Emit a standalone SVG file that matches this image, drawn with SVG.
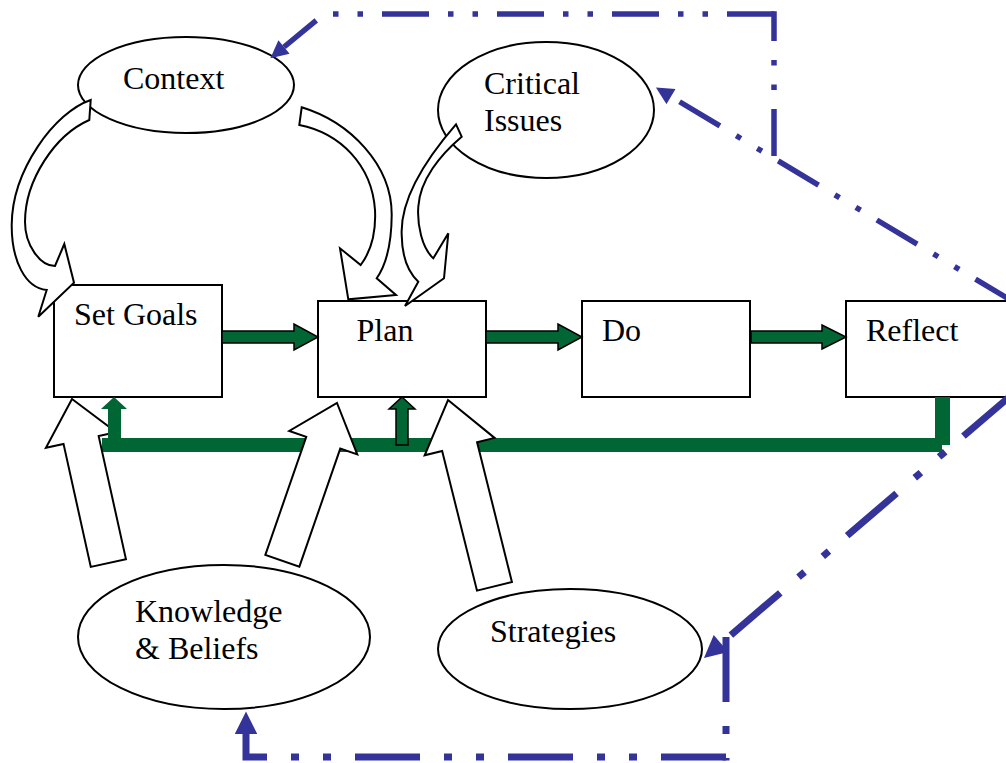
<svg xmlns="http://www.w3.org/2000/svg" width="1006" height="763" viewBox="0 0 1006 763">
<style>
.box{fill:#fff;stroke:#000;stroke-width:2}
.ell{fill:#fff;stroke:#000;stroke-width:2}
.lbl{font-family:"Liberation Serif","Times New Roman",serif;font-size:32px;fill:#000}
.garrow{fill:#006633;stroke:#000;stroke-width:1.5;stroke-linejoin:miter}
.gband{fill:#006633}
.block{fill:#fff;stroke:#000;stroke-width:2;stroke-linejoin:miter}
.fb{fill:none;stroke:#333399;stroke-linejoin:miter}
.thin{stroke-width:5.5;stroke-dasharray:47 19 5.5 19 5.5 19}
.thick{stroke-width:7;stroke-dasharray:65 24 8 24 8 24}
</style>
<defs>
<marker id="ah" markerUnits="strokeWidth" viewBox="0 0 10 10" refX="0" refY="5" markerWidth="3.4" markerHeight="3.2" orient="auto-start-reverse">
<path d="M0,0 L10,5 L0,10 Z" fill="#333399"/>
</marker>
</defs>

<g id="node-context">
<ellipse class="ell" cx="186" cy="85" rx="108" ry="48"/>
<text class="lbl" x="123" y="89">Context</text>
</g>
<g id="node-critical">
<ellipse class="ell" cx="546" cy="110" rx="108" ry="68"/>
<text class="lbl" x="484" y="94">Critical</text>
<text class="lbl" x="484" y="131">Issues</text>
</g>
<g id="node-setgoals">
<rect class="box" x="54" y="285" width="168" height="112"/>
<text class="lbl" x="74" y="325">Set Goals</text>
</g>
<g id="node-plan">
<rect class="box" x="318" y="301" width="168" height="96"/>
<text class="lbl" x="356.5" y="341">Plan</text>
</g>
<g id="node-do">
<rect class="box" x="582" y="301" width="168" height="96"/>
<text class="lbl" x="602" y="341">Do</text>
</g>
<g id="node-reflect">
<rect class="box" x="846" y="301" width="168" height="96"/>
<text class="lbl" x="866" y="341">Reflect</text>
</g>
<g id="node-knowledge">
<ellipse class="ell" cx="224" cy="637" rx="146" ry="72"/>
<text class="lbl" x="135" y="622">Knowledge</text>
<text class="lbl" x="135" y="659">&amp; Beliefs</text>
</g>
<g id="node-strategies">
<ellipse class="ell" cx="570" cy="649" rx="132" ry="60"/>
<text class="lbl" x="490" y="642">Strategies</text>
</g>

<g id="connectors">
<g id="feedback-band">
<rect class="gband" x="935" y="397" width="15" height="48"/>
<rect class="gband" x="102" y="438" width="840" height="14"/>
</g>
<polygon class="garrow" points="222,331 294,331 294,324 318,337 294,350 294,343 222,343"/>
<polygon class="garrow" points="486,331 558,331 558,324 582,337 558,350 558,343 486,343"/>
<polygon class="garrow" points="751,331 822,331 822,325 846,337 822,349 822,343 751,343"/>

<polygon class="block" transform="translate(72,399) rotate(-12.5)" points="0,0 36,42 18,42 18,168 -18,168 -18,42 -36,42"/>
<polygon class="block" transform="translate(337,403) rotate(19.1)" points="0,0 36,42 18,42 18,167 -18,167 -18,42 -36,42"/>
<polygon class="block" transform="translate(448,400) rotate(-14)" points="0,0 36,48 18,48 18,192 -18,192 -18,48 -36,48"/>

<path class="block" d="M90.7,100 C55,112 12,170 11.7,225 C11.5,260 25,288 46.7,290 L38.3,316.7 L74,282.7 L64.3,244 L55,266 C40,266 25,245 25,222 C25,180 55,135 89.3,120 Z"/>
<path class="block" d="M301.7,107.3 C350,122 392,165 391.7,215 C391.5,245 386,265 376.7,278.3 L396,295 L348.3,299.3 L340,248.3 L360.7,265 C372,250 376,230 375,210 C372,165 340,133 299.3,125 Z"/>
<path class="block" d="M456,124.3 C425,160 400,200 401.7,235 C402,258 408,272 418.3,281.7 L405,306 L444,278.3 L448.3,233.3 L433.3,258.3 C422,248 417,225 418.3,206.7 C420,180 440,155 461.7,136.7 Z"/>

<polygon class="gband" points="114,397 127,409 121,409 121,439 108,439 108,409 101,409"/>
<polygon class="garrow" points="402,397 415,409 408,409 408,445 396,445 396,409 389,409"/>

<path class="fb thin" marker-start="url(#ah)" stroke-dashoffset="105" d="M671,96.6 L1012,301"/>
<path class="fb thin" d="M774,156 V11.3"/>
<path class="fb thin" marker-end="url(#ah)" d="M774,14 H324 L284,47"/>
<path class="fb thick" marker-start="url(#ah)" stroke-dashoffset="140" d="M721,643.5 L1012,394.6"/>
<path class="fb thick" d="M726,637 V760.5"/>
<path class="fb thick" marker-end="url(#ah)" d="M726,757 H246 V734"/>
</g>
</svg>
